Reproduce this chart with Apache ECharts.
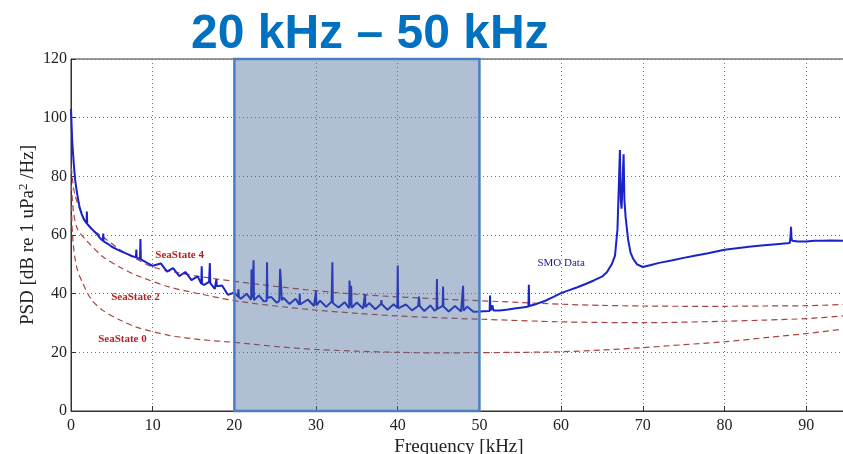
<!DOCTYPE html>
<html>
<head>
<meta charset="utf-8">
<script src="https://cdn.jsdelivr.net/npm/echarts@6/dist/echarts.min.js"></script>
<style>
html,body{margin:0;padding:0;background:#fff;}
#main{width:843px;height:454px;}
</style>
</head>
<body>
<div id="main"></div>
<script>
// 坐标轴刻度
var xTicks = [0, 10, 20, 30, 40, 50, 60, 70, 80, 90];
var yTicks = [0, 20, 40, 60, 80, 100, 120];

// 频段 (kHz)
var bandRange = [20, 50];

// SMO 实测数据 [kHz, dB]
var smoData = [
    [0,103],[0.08,97],[0.15,92],[0.23,88.5],[0.35,84],[0.5,79],[0.65,76],[0.85,72.5],[1.05,69.5],[1.3,67.2],
    [1.6,65.2],[1.9,64],[1.94,68],[1.98,63.8],[2.3,62.8],[2.7,61.6],[3.2,60.2],[3.6,58.8],[3.9,58],[3.95,60.5],
    [4.0,57.8],[4.5,57],[5,56],[5.5,55.3],[6,54.6],[6.5,54],[7,53.4],[7.5,52.8],[7.95,52.4],[8.0,55],
    [8.05,52.3],[8.45,51.8],[8.5,58.6],[8.55,51.7],[9,51],[9.5,50.2],[10,49.5],
    [11,50.3],[11.75,47.5],[12.5,48.7],[13.25,46],[14,47.4],[14.75,44.6],[15.5,45.9],
    [15.95,43.4],[16,49.3],[16.05,43.3],[16.3,43],[16.9,44],[16.95,44],[17,50.4],[17.05,43.6],
    [17.6,41.6],[17.8,45],[17.85,42.5],[18.5,42.8],[19.2,39.6],[20,40.4],
    [20.45,39],[20.5,41.5],[20.55,38.8],[20.8,38.3],[21.5,40],
    [22.05,37.9],[22.1,48.2],[22.2,38.5],[22.35,51.4],[22.4,37.8],[23,39.4],[23.6,37.4],
    [23.95,37.5],[24,50.7],[24.05,38.5],[24.5,38.9],[25.2,36.9],
    [25.5,37.5],[25.6,48.5],[25.7,44],[25.8,37.8],[26,38.6],[26.75,36.5],[27.5,38.3],
    [27.95,36.2],[28,40],[28.05,36.3],[29,38],[29.75,35.8],
    [29.95,35.9],[30,41],[30.05,36],[30.5,37.6],[31.25,35.5],
    [31.9,37.3],[31.95,37.2],[32,50.7],[32.05,36.8],[32.75,35.3],[33.5,37.1],
    [34.05,35.1],[34.1,44.5],[34.2,36],[34.3,42.7],[34.35,35.2],[35,37],[35.75,34.9],
    [35.95,35],[36,39.9],[36.05,35.4],[36.5,36.8],[37.25,34.7],
    [37.95,36.5],[38,37.8],[38.05,36.4],[38.75,34.5],[39.5,36.4],
    [39.95,35.2],[40,49.6],[40.05,35],[40.25,34.4],[41,36.3],[41.75,34.3],
    [42.5,35.8],[42.6,39],[42.7,35.8],[43.25,34.1],[44,36],[44.5,34.2],
    [44.75,34.6],[44.8,45],[44.85,34.8],[45.5,35.8],[45.55,42.4],[45.6,35.6],
    [46.25,33.9],[47,35.8],[47.75,33.9],[47.95,34],[48,42.7],[48.05,34.2],[48.5,35.6],[49.25,33.8],
    [50,33.9],[50.5,34],[51.25,34.1],[51.3,39.4],[51.35,34.2],[51.6,36],[51.7,34.3],[52.5,34.3],
    [53.5,34.6],[54.5,35],[55.5,35.4],[56,35.6],[56.05,43],[56.1,35.8],[57,36.5],[58,37.5],
    [59,38.8],[60,40.2],[61,41.2],[62,42.2],[63,43.3],[64,44.5],[65,45.8],[65.6,47.3],
    [66.2,50],[66.6,53],[66.9,62],[67.1,80],[67.2,89],[67.3,72],[67.4,69],[67.5,76],
    [67.65,87.5],[67.75,72],[67.9,66],[68.2,58.5],[68.5,54],[68.8,52],[69.3,50],[70,49.1],
    [71,49.8],[72,50.5],[73.5,51.3],[75,52.2],[76.5,53],[78,53.8],[80,55],[81.5,55.5],
    [83,56],[84.5,56.4],[86,56.8],[88,57.3],[88.1,60],[88.15,62.8],[88.2,59],[88.3,58],
    [89,57.8],[90,57.8],[91,58],[92,58],[93,58.1],[94.5,58]
];

// 海况曲线 [kHz, dB]
var seaState4 = [
    [0.05,83],[0.44,74.2],[1.45,66.3],[2.5,62],[3.9,59.4],[6,55],[8,51.8],[10,49.1],[13,47.2],
    [16.1,45.7],[20,44.2],[25,42.5],[30,41],[35,39.8],[40,38.9],[45,38.2],[50,37.6],[55,37],
    [60,36.4],[65,36],[70,35.8],[75,35.7],[80,35.7],[85,35.8],[90,35.9],[94.5,36.3]
];
var seaState2 = [
    [0.05,77],[0.3,68],[0.8,62],[1.87,58.2],[3.9,52.6],[6,49],[8,46.3],[12,42.3],[16,39.8],
    [20,37.6],[25,35.8],[30,34.4],[35,33.3],[40,32.4],[45,31.8],[50,31.3],[60,30.4],[70,30.1],
    [80,30.6],[85,31],[90,31.5],[94.5,32.4]
];
var seaState0 = [
    [0.05,70],[0.23,58.2],[0.7,49],[1.45,43.5],[2.5,38],[3.9,34.3],[6,31],[8,28.6],[12,25.8],
    [16,24.3],[20,23.4],[25,22],[30,21],[35,20.4],[40,20],[45,19.8],[50,19.9],[55,20],[60,20.2],
    [65,20.8],[70,21.6],[75,22.6],[80,23.6],[85,25],[90,26.4],[94.5,27.9]
];

// 曲线标注位置 [kHz, dB]
var labelPos = {
    "SeaState 4": [13.3, 53.2],
    "SeaState 2": [7.9, 38.8],
    "SeaState 0": [6.3, 24.5],
    "SMO Data": [60, 50.4]
};

var serif = "'Liberation Serif', 'DejaVu Serif', serif";
var dashColor = "#a8453f";

function seaSeries(name, data){
    return {
        name: name,
        type: 'line',
        data: data,
        symbol: 'none',
        smooth: 0.3,
        z: 2,
        lineStyle: {color: dashColor, width: 1.2, type: [6, 4]},
        markPoint: {
            symbol: 'circle',
            symbolSize: 0,
            silent: true,
            label: {
                show: true, position: 'inside', formatter: name,
                fontFamily: serif, fontWeight: 'bold', fontSize: 11, color: '#b02424'
            },
            data: [{coord: labelPos[name]}]
        }
    };
}

var myChart = echarts.init(document.getElementById('main'));
myChart.setOption({
    animation: false,
    backgroundColor: '#fff',
    title: {
        text: '20 kHz \u2013 50 kHz',
        left: 186,
        top: 6,
        textStyle: {
            fontFamily: "'Liberation Sans', Arial, sans-serif",
            fontWeight: 'bold',
            fontSize: 48,
            color: '#0070c0'
        }
    },
    grid: {
        left: 71, top: 59, right: -4, bottom: 43,
        outerBoundsMode: 'none',
        containLabel: false,
        show: true, borderColor: '#333', borderWidth: 1, backgroundColor: 'transparent'
    },
    xAxis: {
        type: 'value',
        min: 0, max: 95, interval: 10,
        name: 'Frequency [kHz]',
        nameLocation: 'middle',
        nameGap: 27,
        nameMoveOverlap: false,
        nameTextStyle: {fontFamily: serif, fontSize: 19, color: '#222'},
        axisLine: {show: true, lineStyle: {color: '#333', width: 1}},
        axisTick: {show: true, inside: true, length: 5, lineStyle: {color: '#333'}},
        axisLabel: {
            fontFamily: serif, fontSize: 16, color: '#222', margin: 7,
            formatter: function(v){ return xTicks.indexOf(v) >= 0 ? String(v) : ''; }
        },
        splitLine: {show: true, lineStyle: {color: '#777', width: 1, type: [1, 3]}}
    },
    yAxis: {
        type: 'value',
        min: 0, max: 120, interval: 20,
        name: 'PSD [dB re 1 uPa{sup|2} /Hz]',
        nameLocation: 'middle',
        nameRotate: 90,
        nameGap: 32,
        nameMoveOverlap: false,
        nameTextStyle: {
            fontFamily: serif, fontSize: 19, color: '#222',
            rich: {sup: {fontFamily: serif, fontSize: 13, color: '#222', padding: [0, 0, 9, 0]}}
        },
        axisLine: {show: true, lineStyle: {color: '#333', width: 1}},
        axisTick: {show: true, inside: true, length: 5, lineStyle: {color: '#333'}},
        axisLabel: {
            fontFamily: serif, fontSize: 16, color: '#222', margin: 4,
            formatter: function(v){ return yTicks.indexOf(v) >= 0 ? String(v) : ''; }
        },
        splitLine: {show: true, lineStyle: {color: '#777', width: 1, type: [1, 3]}}
    },
    series: [
        seaSeries('SeaState 0', seaState0),
        seaSeries('SeaState 2', seaState2),
        seaSeries('SeaState 4', seaState4),
        {
            name: 'SMO Data',
            type: 'line',
            data: smoData,
            symbol: 'none',
            z: 3,
            lineStyle: {color: '#1a22c8', width: 2},
            markPoint: {
                symbol: 'circle',
                symbolSize: 0,
                silent: true,
                label: {
                    show: true, position: 'inside', formatter: 'SMO Data',
                    fontFamily: serif, fontSize: 11, color: '#1c1c8c'
                },
                data: [{coord: labelPos["SMO Data"]}]
            }
        },
        {
            name: 'band',
            type: 'line',
            data: [],
            z: 5,
            markArea: {
                silent: true,
                z: 10,
                itemStyle: {
                    color: 'rgba(69,103,153,0.42)',
                    borderColor: '#4a7fc2',
                    borderWidth: 2.5
                },
                data: [[{coord: [bandRange[0], 120]}, {coord: [bandRange[1], 0]}]]
            }
        }
    ]
});
window.addEventListener("resize", function() {
    myChart.resize();
});
</script>
</body>
</html>
